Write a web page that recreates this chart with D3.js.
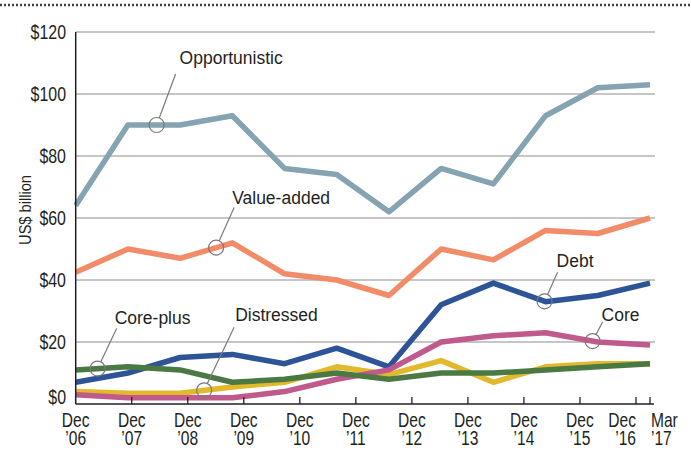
<!DOCTYPE html>
<html>
<head>
<meta charset="utf-8">
<script src="https://cdn.jsdelivr.net/npm/d3@7"></script>
<style>
  body { margin: 0; background: #fff; }
  svg text { fill: #231f20; font-family: "Liberation Sans", Arial, sans-serif; }
</style>
</head>
<body>
<div id="chart"></div>
<script>
// 12 observations, evenly spaced from Dec '06 to Mar '17
const opportunistic = [64, 90, 90, 93, 76, 74, 62, 76, 71, 93, 102, 103];
const valueAdded    = [42.5, 50, 47, 52, 42, 40, 35, 50, 46.5, 56, 55, 60];
const debt          = [7, 10, 15, 16, 13, 18, 12, 32, 39, 33, 35, 39];
const corePlus      = [11, 12, 11, 7, 8, 10, 8, 10, 10, 11, 12, 13];
const distressed    = [4, 3.5, 3.5, 5.5, 7, 12, 9.5, 14, 7, 12, 13, 13];
const core          = [3, 2, 2, 2, 4, 8, 11, 20, 22, 23, 20, 19];

// axis ticks, in years after Dec 2006
const tickYears  = [0, 1, 2, 3, 4, 5, 6, 7, 8, 9, 10, 10.25];
const tickLine1  = ["Dec", "Dec", "Dec", "Dec", "Dec", "Dec", "Dec", "Dec", "Dec", "Dec", "Dec", "Mar"];
const tickLine2  = ["’06", "’07", "’08", "’09", "’10", "’11", "’12", "’13", "’14", "’15", "’16", "’17"];
const yTicks     = [0, 20, 40, 60, 80, 100, 120];

// labels: which series, where on it (observation index)
const annoLabels = ["Opportunistic", "Value-added", "Core-plus", "Distressed", "Debt", "Core"];
const annoSeries = ["opportunistic", "valueAdded", "corePlus", "distressed", "debt", "core"];
const annoAt     = [1.55, 2.69, 0.42, 2.46, 8.98, 9.9];

const W = 691, H = 450;
const SQUEEZE = 0.76;   // no condensed face installed, so squash the regular one
const svg = d3.select("#chart").append("svg")
    .attr("width", W).attr("height", H);

const x = d3.scaleLinear().domain([0, 10.25]).range([75.7, 650]);
const xi = d3.scaleLinear().domain([0, opportunistic.length - 1]).range([x(0), x(10.25)]);
const y = d3.scaleLinear().domain([0, 120]).range([404, 32]);
const RIGHT = 655;

const series = [
    { key: "opportunistic", values: opportunistic, color: "#86a3b2" },
    { key: "valueAdded", values: valueAdded, color: "#f28b68" },
    { key: "debt", values: debt, color: "#2d5496" },
    { key: "distressed", values: distressed, color: "#e2b92d" },
    { key: "core", values: core, color: "#c05a8c" },
    { key: "corePlus", values: corePlus, color: "#4b7944" }
];
const byKey = {};
series.forEach(s => byKey[s.key] = s);

function narrow(g, px, py, size, anchor){
    return g.append("text")
        .attr("transform", `translate(${px},${py}) scale(${SQUEEZE},1)`)
        .attr("text-anchor", anchor)
        .style("font-size", size + "px");
}

// dotted rule at the top
svg.append("line")
    .attr("x1", 0).attr("x2", W).attr("y1", 5).attr("y2", 5)
    .attr("stroke", "#444").attr("stroke-width", 2.5)
    .attr("stroke-dasharray", "2,2");

// gridlines
svg.append("g").selectAll("line")
    .data(yTicks.filter(d => d > 0))
    .join("line")
    .attr("x1", x(0)).attr("x2", RIGHT)
    .attr("y1", d => y(d)).attr("y2", d => y(d))
    .attr("stroke", "#b3b3b3").attr("stroke-width", 1.5);

// y labels
const yl = svg.append("g");
yTicks.forEach(d => narrow(yl, 66, y(d) + (d === 0 ? 0 : 7), 21, "end").text("$" + d));

// y title
svg.append("text")
    .attr("transform", "translate(31,210) rotate(-90) scale(0.86,1)")
    .attr("text-anchor", "middle")
    .style("font-size", "17px")
    .text("US$ billion");

// lines
const line = d3.line()
    .x((d, i) => xi(i))
    .y(d => y(d));

svg.append("g").selectAll("path")
    .data(series)
    .join("path")
    .attr("d", s => line(s.values))
    .attr("fill", "none")
    .attr("stroke", s => s.color)
    .attr("stroke-width", 5.5)
    .attr("stroke-linejoin", "round")
    .attr("stroke-linecap", "butt");

// axes
svg.append("line")
    .attr("x1", x(0)).attr("x2", x(0)).attr("y1", y(120)).attr("y2", y(0))
    .attr("stroke", "#231f20").attr("stroke-width", 1.5);
svg.append("line")
    .attr("x1", x(0)).attr("x2", 654).attr("y1", y(0)).attr("y2", y(0))
    .attr("stroke", "#231f20").attr("stroke-width", 1.5);

svg.append("g").selectAll("line")
    .data(tickYears.slice(1))
    .join("line")
    .attr("x1", d => x(d)).attr("x2", d => x(d))
    .attr("y1", y(0)).attr("y2", y(0) - 7)
    .attr("stroke", "#231f20").attr("stroke-width", 1.3);

// x labels; the last two sit either side of their ticks
const last = tickYears.length - 1;
const anchorFor = i => i === last - 1 ? "end" : (i === last ? "start" : "middle");
const xl = svg.append("g");
tickYears.forEach((t, i) => {
    const px = x(t) + (i === last ? 1 : 0);
    const tx = narrow(xl, px, 427, 20.5, anchorFor(i));
    tx.append("tspan").attr("x", 0).attr("y", 0).text(tickLine1[i]);
    tx.append("tspan").attr("x", 0).attr("y", 18.5).text(tickLine2[i]);
});

// callouts: circle on the line, leader to the label
const leaderEnd = [[19, -51], [18, -40], [19, -40], [30, -63], [13, -29], [10, -19]];
const textOff   = [[23, -61], [16, -44], [17, -45], [31, -69], [12, -34], [9, -20]];
const R = 7.5;
const anno = svg.append("g");
annoLabels.forEach((lab, i) => {
    const s = byKey[annoSeries[i]];
    const t = annoAt[i];
    const lo = Math.floor(t), f = t - lo;
    const v = s.values[lo] + (s.values[lo + 1] - s.values[lo]) * f;
    const cx = xi(t), cy = y(v);
    const [ex, ey] = leaderEnd[i];
    const len = Math.hypot(ex, ey);
    anno.append("circle")
        .attr("cx", cx).attr("cy", cy).attr("r", R)
        .attr("fill", "none").attr("stroke", "#7a7a7a").attr("stroke-width", 1.2);
    anno.append("line")
        .attr("x1", cx + ex / len * R).attr("y1", cy + ey / len * R)
        .attr("x2", cx + ex).attr("y2", cy + ey)
        .attr("stroke", "#7a7a7a").attr("stroke-width", 1.2);
    anno.append("text")
        .attr("x", cx + textOff[i][0]).attr("y", cy + textOff[i][1])
        .style("font-size", "17.5px")
        .text(lab);
});
</script>
</body>
</html>
